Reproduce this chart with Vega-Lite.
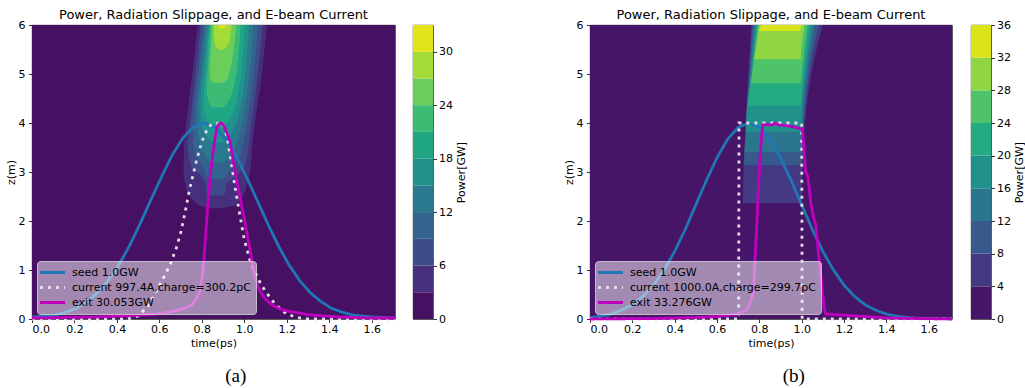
{
  "$schema": "https://vega.github.io/schema/vega-lite/v6.json",
  "padding": {"left": 4, "top": 8, "right": 0, "bottom": 0},
  "config": {
    "font": "DejaVu Sans",
    "view": {"stroke": "#000", "strokeWidth": 0.8},
    "axis": {"labelFontSize": 11, "titleFontSize": 11, "titleFontWeight": "normal", "labelColor": "#000", "titleColor": "#000", "tickColor": "#000", "tickSize": 3.5, "tickWidth": 0.8, "domain": false, "grid": false, "labelPadding": 3.5, "titlePadding": 2},
    "axisX": {"labelPadding": 1, "titlePadding": 3},
    "title": {"fontSize": 13, "fontWeight": "normal", "color": "#000", "offset": -2.5},
    "legend": {"orient": "bottom-left", "offset": 5, "fillColor": "rgba(255,255,255,0.5)", "strokeColor": "rgba(215,215,215,0.8)", "cornerRadius": 3, "padding": 5, "labelFontSize": 11, "labelColor": "#000", "labelLimit": 400, "symbolType": "M-2.5,0L2.5,0", "symbolSize": 100, "symbolStrokeWidth": 3, "symbolOffset": 4, "labelOffset": 13, "rowPadding": 2, "symbolFillColor": "transparent"}
  },
  "datasets": {
    "contourA": [
      {"level": 0, "z": 0, "t0": 0, "t1": 1.71}, {"level": 0, "z": 6, "t0": 0, "t1": 1.71},
      {"level": 3, "z": 2.26, "t0": 0.85, "t1": 0.89}, {"level": 3, "z": 2.3, "t0": 0.8, "t1": 0.94}, {"level": 3, "z": 2.4, "t0": 0.765, "t1": 0.975}, {"level": 3, "z": 2.55, "t0": 0.738, "t1": 0.998}, {"level": 3, "z": 2.75, "t0": 0.722, "t1": 1.013}, {"level": 3, "z": 3.0, "t0": 0.714, "t1": 1.027}, {"level": 3, "z": 3.5, "t0": 0.716, "t1": 1.037}, {"level": 3, "z": 4.0, "t0": 0.727, "t1": 1.05}, {"level": 3, "z": 4.5, "t0": 0.74, "t1": 1.067}, {"level": 3, "z": 5.0, "t0": 0.755, "t1": 1.083}, {"level": 3, "z": 5.5, "t0": 0.768, "t1": 1.095}, {"level": 3, "z": 6.0, "t0": 0.78, "t1": 1.106},
      {"level": 6, "z": 2.52, "t0": 0.845, "t1": 0.89}, {"level": 6, "z": 2.56, "t0": 0.82, "t1": 0.91}, {"level": 6, "z": 2.75, "t0": 0.818, "t1": 0.915}, {"level": 6, "z": 2.95, "t0": 0.79, "t1": 0.97}, {"level": 6, "z": 3.1, "t0": 0.75, "t1": 1.0}, {"level": 6, "z": 3.5, "t0": 0.735, "t1": 1.02}, {"level": 6, "z": 4.0, "t0": 0.745, "t1": 1.033}, {"level": 6, "z": 4.5, "t0": 0.757, "t1": 1.05}, {"level": 6, "z": 5.0, "t0": 0.77, "t1": 1.063}, {"level": 6, "z": 5.5, "t0": 0.783, "t1": 1.075}, {"level": 6, "z": 6.0, "t0": 0.795, "t1": 1.085},
      {"level": 9, "z": 2.85, "t0": 0.84, "t1": 0.895}, {"level": 9, "z": 2.9, "t0": 0.825, "t1": 0.91}, {"level": 9, "z": 3.1, "t0": 0.805, "t1": 0.94}, {"level": 9, "z": 3.3, "t0": 0.775, "t1": 0.975}, {"level": 9, "z": 3.6, "t0": 0.76, "t1": 0.995}, {"level": 9, "z": 4.0, "t0": 0.76, "t1": 1.013}, {"level": 9, "z": 4.5, "t0": 0.77, "t1": 1.03}, {"level": 9, "z": 5.0, "t0": 0.783, "t1": 1.045}, {"level": 9, "z": 5.5, "t0": 0.796, "t1": 1.055}, {"level": 9, "z": 6.0, "t0": 0.808, "t1": 1.063},
      {"level": 12, "z": 3.2, "t0": 0.84, "t1": 0.9}, {"level": 12, "z": 3.3, "t0": 0.82, "t1": 0.93}, {"level": 12, "z": 3.6, "t0": 0.79, "t1": 0.965}, {"level": 12, "z": 4.0, "t0": 0.777, "t1": 0.99}, {"level": 12, "z": 4.5, "t0": 0.782, "t1": 1.01}, {"level": 12, "z": 5.0, "t0": 0.795, "t1": 1.025}, {"level": 12, "z": 5.5, "t0": 0.807, "t1": 1.035}, {"level": 12, "z": 6.0, "t0": 0.818, "t1": 1.042},
      {"level": 15, "z": 3.6, "t0": 0.845, "t1": 0.905}, {"level": 15, "z": 3.75, "t0": 0.82, "t1": 0.935}, {"level": 15, "z": 4.0, "t0": 0.795, "t1": 0.963}, {"level": 15, "z": 4.5, "t0": 0.795, "t1": 0.99}, {"level": 15, "z": 5.0, "t0": 0.806, "t1": 1.005}, {"level": 15, "z": 5.5, "t0": 0.817, "t1": 1.015}, {"level": 15, "z": 6.0, "t0": 0.827, "t1": 1.022},
      {"level": 18, "z": 3.92, "t0": 0.85, "t1": 0.9}, {"level": 18, "z": 4.05, "t0": 0.825, "t1": 0.925}, {"level": 18, "z": 4.3, "t0": 0.81, "t1": 0.955}, {"level": 18, "z": 4.7, "t0": 0.81, "t1": 0.975}, {"level": 18, "z": 5.0, "t0": 0.816, "t1": 0.985}, {"level": 18, "z": 5.5, "t0": 0.826, "t1": 0.995}, {"level": 18, "z": 6.0, "t0": 0.835, "t1": 1.002},
      {"level": 21, "z": 4.32, "t0": 0.85, "t1": 0.9}, {"level": 21, "z": 4.45, "t0": 0.83, "t1": 0.925}, {"level": 21, "z": 4.7, "t0": 0.823, "t1": 0.948}, {"level": 21, "z": 5.0, "t0": 0.826, "t1": 0.962}, {"level": 21, "z": 5.5, "t0": 0.834, "t1": 0.975}, {"level": 21, "z": 6.0, "t0": 0.841, "t1": 0.983},
      {"level": 24, "z": 4.82, "t0": 0.855, "t1": 0.9}, {"level": 24, "z": 4.9, "t0": 0.84, "t1": 0.92}, {"level": 24, "z": 5.1, "t0": 0.838, "t1": 0.935}, {"level": 24, "z": 5.5, "t0": 0.843, "t1": 0.95}, {"level": 24, "z": 6.0, "t0": 0.848, "t1": 0.962},
      {"level": 27, "z": 5.5, "t0": 0.88, "t1": 0.905}, {"level": 27, "z": 5.6, "t0": 0.862, "t1": 0.925}, {"level": 27, "z": 5.8, "t0": 0.857, "t1": 0.935}, {"level": 27, "z": 6.0, "t0": 0.857, "t1": 0.94},
      {"level": 30, "z": 5.93, "t0": 0.885, "t1": 0.905}, {"level": 30, "z": 6.0, "t0": 0.878, "t1": 0.915}
    ],
    "contourB": [
      {"level": 0, "z": 0, "t0": 0, "t1": 1.71}, {"level": 0, "z": 6, "t0": 0, "t1": 1.71},
      {"level": 4, "z": 2.36, "t0": 0.722, "t1": 1.0}, {"level": 4, "z": 3.0, "t0": 0.725, "t1": 1.003}, {"level": 4, "z": 4.0, "t0": 0.735, "t1": 1.015}, {"level": 4, "z": 5.0, "t0": 0.748, "t1": 1.045}, {"level": 4, "z": 5.5, "t0": 0.755, "t1": 1.07}, {"level": 4, "z": 6.0, "t0": 0.762, "t1": 1.1},
      {"level": 8, "z": 3.14, "t0": 0.726, "t1": 1.0}, {"level": 8, "z": 4.0, "t0": 0.738, "t1": 1.01}, {"level": 8, "z": 5.0, "t0": 0.752, "t1": 1.035}, {"level": 8, "z": 5.5, "t0": 0.76, "t1": 1.055}, {"level": 8, "z": 6.0, "t0": 0.768, "t1": 1.08},
      {"level": 12, "z": 3.41, "t0": 0.73, "t1": 1.0}, {"level": 12, "z": 4.0, "t0": 0.74, "t1": 1.006}, {"level": 12, "z": 5.0, "t0": 0.756, "t1": 1.025}, {"level": 12, "z": 5.5, "t0": 0.765, "t1": 1.042}, {"level": 12, "z": 6.0, "t0": 0.775, "t1": 1.063},
      {"level": 16, "z": 3.82, "t0": 0.735, "t1": 0.998}, {"level": 16, "z": 4.5, "t0": 0.745, "t1": 1.005}, {"level": 16, "z": 5.0, "t0": 0.76, "t1": 1.018}, {"level": 16, "z": 5.5, "t0": 0.77, "t1": 1.032}, {"level": 16, "z": 6.0, "t0": 0.782, "t1": 1.05},
      {"level": 20, "z": 4.35, "t0": 0.745, "t1": 0.996}, {"level": 20, "z": 5.0, "t0": 0.765, "t1": 1.01}, {"level": 20, "z": 5.5, "t0": 0.775, "t1": 1.022}, {"level": 20, "z": 6.0, "t0": 0.788, "t1": 1.038},
      {"level": 24, "z": 4.81, "t0": 0.76, "t1": 0.995}, {"level": 24, "z": 5.5, "t0": 0.78, "t1": 1.012}, {"level": 24, "z": 6.0, "t0": 0.794, "t1": 1.027},
      {"level": 28, "z": 5.3, "t0": 0.775, "t1": 0.995}, {"level": 28, "z": 5.6, "t0": 0.787, "t1": 1.0}, {"level": 28, "z": 6.0, "t0": 0.8, "t1": 1.013},
      {"level": 32, "z": 5.88, "t0": 0.795, "t1": 0.99}, {"level": 32, "z": 6.0, "t0": 0.81, "t1": 0.998}
    ],
    "linesA": [
      {"series": "seed 1.0GW", "t": 0.0, "z": 0.04}, {"series": "seed 1.0GW", "t": 0.06, "z": 0.06}, {"series": "seed 1.0GW", "t": 0.11, "z": 0.08}, {"series": "seed 1.0GW", "t": 0.16, "z": 0.14}, {"series": "seed 1.0GW", "t": 0.21, "z": 0.22}, {"series": "seed 1.0GW", "t": 0.26, "z": 0.36}, {"series": "seed 1.0GW", "t": 0.31, "z": 0.54}, {"series": "seed 1.0GW", "t": 0.36, "z": 0.79}, {"series": "seed 1.0GW", "t": 0.41, "z": 1.11}, {"series": "seed 1.0GW", "t": 0.46, "z": 1.5}, {"series": "seed 1.0GW", "t": 0.51, "z": 1.95}, {"series": "seed 1.0GW", "t": 0.56, "z": 2.43}, {"series": "seed 1.0GW", "t": 0.61, "z": 2.9}, {"series": "seed 1.0GW", "t": 0.66, "z": 3.34}, {"series": "seed 1.0GW", "t": 0.71, "z": 3.69}, {"series": "seed 1.0GW", "t": 0.76, "z": 3.92}, {"series": "seed 1.0GW", "t": 0.81, "z": 4.0}, {"series": "seed 1.0GW", "t": 0.86, "z": 3.92}, {"series": "seed 1.0GW", "t": 0.91, "z": 3.69}, {"series": "seed 1.0GW", "t": 0.96, "z": 3.34}, {"series": "seed 1.0GW", "t": 1.01, "z": 2.9}, {"series": "seed 1.0GW", "t": 1.06, "z": 2.43}, {"series": "seed 1.0GW", "t": 1.11, "z": 1.95}, {"series": "seed 1.0GW", "t": 1.16, "z": 1.5}, {"series": "seed 1.0GW", "t": 1.21, "z": 1.11}, {"series": "seed 1.0GW", "t": 1.26, "z": 0.79}, {"series": "seed 1.0GW", "t": 1.31, "z": 0.54}, {"series": "seed 1.0GW", "t": 1.36, "z": 0.36}, {"series": "seed 1.0GW", "t": 1.41, "z": 0.22}, {"series": "seed 1.0GW", "t": 1.46, "z": 0.14}, {"series": "seed 1.0GW", "t": 1.51, "z": 0.08}, {"series": "seed 1.0GW", "t": 1.56, "z": 0.06}, {"series": "seed 1.0GW", "t": 1.61, "z": 0.04}, {"series": "seed 1.0GW", "t": 1.71, "z": 0.02},
      {"series": "current 997.4A,charge=300.2pC", "t": 0.0, "z": 0}, {"series": "current 997.4A,charge=300.2pC", "t": 0.45, "z": 0}, {"series": "current 997.4A,charge=300.2pC", "t": 0.5, "z": 0.06}, {"series": "current 997.4A,charge=300.2pC", "t": 0.55, "z": 0.28}, {"series": "current 997.4A,charge=300.2pC", "t": 0.6, "z": 0.68}, {"series": "current 997.4A,charge=300.2pC", "t": 0.65, "z": 1.1}, {"series": "current 997.4A,charge=300.2pC", "t": 0.68, "z": 1.45}, {"series": "current 997.4A,charge=300.2pC", "t": 0.7, "z": 1.75}, {"series": "current 997.4A,charge=300.2pC", "t": 0.72, "z": 2.15}, {"series": "current 997.4A,charge=300.2pC", "t": 0.74, "z": 2.6}, {"series": "current 997.4A,charge=300.2pC", "t": 0.77, "z": 3.15}, {"series": "current 997.4A,charge=300.2pC", "t": 0.8, "z": 3.62}, {"series": "current 997.4A,charge=300.2pC", "t": 0.83, "z": 3.92}, {"series": "current 997.4A,charge=300.2pC", "t": 0.86, "z": 4.0}, {"series": "current 997.4A,charge=300.2pC", "t": 0.9, "z": 3.98}, {"series": "current 997.4A,charge=300.2pC", "t": 0.92, "z": 3.7}, {"series": "current 997.4A,charge=300.2pC", "t": 0.94, "z": 3.15}, {"series": "current 997.4A,charge=300.2pC", "t": 0.96, "z": 2.6}, {"series": "current 997.4A,charge=300.2pC", "t": 0.98, "z": 2.1}, {"series": "current 997.4A,charge=300.2pC", "t": 1.0, "z": 1.62}, {"series": "current 997.4A,charge=300.2pC", "t": 1.03, "z": 1.15}, {"series": "current 997.4A,charge=300.2pC", "t": 1.07, "z": 0.78}, {"series": "current 997.4A,charge=300.2pC", "t": 1.1, "z": 0.56}, {"series": "current 997.4A,charge=300.2pC", "t": 1.15, "z": 0.28}, {"series": "current 997.4A,charge=300.2pC", "t": 1.2, "z": 0.1}, {"series": "current 997.4A,charge=300.2pC", "t": 1.25, "z": 0.03}, {"series": "current 997.4A,charge=300.2pC", "t": 1.3, "z": 0}, {"series": "current 997.4A,charge=300.2pC", "t": 1.71, "z": 0},
      {"series": "exit 30.053GW", "t": 0.0, "z": 0.02}, {"series": "exit 30.053GW", "t": 0.3, "z": 0.04}, {"series": "exit 30.053GW", "t": 0.47, "z": 0.07}, {"series": "exit 30.053GW", "t": 0.58, "z": 0.1}, {"series": "exit 30.053GW", "t": 0.66, "z": 0.15}, {"series": "exit 30.053GW", "t": 0.72, "z": 0.22}, {"series": "exit 30.053GW", "t": 0.753, "z": 0.29}, {"series": "exit 30.053GW", "t": 0.775, "z": 0.42}, {"series": "exit 30.053GW", "t": 0.79, "z": 0.56}, {"series": "exit 30.053GW", "t": 0.803, "z": 0.88}, {"series": "exit 30.053GW", "t": 0.81, "z": 1.2}, {"series": "exit 30.053GW", "t": 0.816, "z": 1.58}, {"series": "exit 30.053GW", "t": 0.822, "z": 1.95}, {"series": "exit 30.053GW", "t": 0.827, "z": 2.26}, {"series": "exit 30.053GW", "t": 0.834, "z": 2.6}, {"series": "exit 30.053GW", "t": 0.84, "z": 2.94}, {"series": "exit 30.053GW", "t": 0.85, "z": 3.3}, {"series": "exit 30.053GW", "t": 0.86, "z": 3.62}, {"series": "exit 30.053GW", "t": 0.87, "z": 3.88}, {"series": "exit 30.053GW", "t": 0.88, "z": 3.98}, {"series": "exit 30.053GW", "t": 0.89, "z": 4.0}, {"series": "exit 30.053GW", "t": 0.9, "z": 3.97}, {"series": "exit 30.053GW", "t": 0.91, "z": 3.88}, {"series": "exit 30.053GW", "t": 0.92, "z": 3.78}, {"series": "exit 30.053GW", "t": 0.933, "z": 3.62}, {"series": "exit 30.053GW", "t": 0.945, "z": 3.3}, {"series": "exit 30.053GW", "t": 0.96, "z": 2.94}, {"series": "exit 30.053GW", "t": 0.975, "z": 2.6}, {"series": "exit 30.053GW", "t": 0.99, "z": 2.26}, {"series": "exit 30.053GW", "t": 1.005, "z": 1.92}, {"series": "exit 30.053GW", "t": 1.02, "z": 1.58}, {"series": "exit 30.053GW", "t": 1.035, "z": 1.22}, {"series": "exit 30.053GW", "t": 1.05, "z": 0.88}, {"series": "exit 30.053GW", "t": 1.062, "z": 0.7}, {"series": "exit 30.053GW", "t": 1.075, "z": 0.56}, {"series": "exit 30.053GW", "t": 1.1, "z": 0.4}, {"series": "exit 30.053GW", "t": 1.13, "z": 0.29}, {"series": "exit 30.053GW", "t": 1.17, "z": 0.2}, {"series": "exit 30.053GW", "t": 1.22, "z": 0.15}, {"series": "exit 30.053GW", "t": 1.3, "z": 0.09}, {"series": "exit 30.053GW", "t": 1.35, "z": 0.07}, {"series": "exit 30.053GW", "t": 1.45, "z": 0.04}, {"series": "exit 30.053GW", "t": 1.6, "z": 0.02}, {"series": "exit 30.053GW", "t": 1.71, "z": 0.02}
    ],
    "linesB": [
      {"series": "seed 1.0GW", "t": 0.0, "z": 0.03}, {"series": "seed 1.0GW", "t": 0.05, "z": 0.057}, {"series": "seed 1.0GW", "t": 0.1, "z": 0.1}, {"series": "seed 1.0GW", "t": 0.15, "z": 0.18}, {"series": "seed 1.0GW", "t": 0.2, "z": 0.29}, {"series": "seed 1.0GW", "t": 0.25, "z": 0.46}, {"series": "seed 1.0GW", "t": 0.3, "z": 0.69}, {"series": "seed 1.0GW", "t": 0.35, "z": 1.0}, {"series": "seed 1.0GW", "t": 0.4, "z": 1.38}, {"series": "seed 1.0GW", "t": 0.45, "z": 1.83}, {"series": "seed 1.0GW", "t": 0.5, "z": 2.33}, {"series": "seed 1.0GW", "t": 0.55, "z": 2.83}, {"series": "seed 1.0GW", "t": 0.6, "z": 3.29}, {"series": "seed 1.0GW", "t": 0.65, "z": 3.67}, {"series": "seed 1.0GW", "t": 0.7, "z": 3.91}, {"series": "seed 1.0GW", "t": 0.75, "z": 4.0}, {"series": "seed 1.0GW", "t": 0.8, "z": 3.91}, {"series": "seed 1.0GW", "t": 0.85, "z": 3.67}, {"series": "seed 1.0GW", "t": 0.9, "z": 3.29}, {"series": "seed 1.0GW", "t": 0.95, "z": 2.83}, {"series": "seed 1.0GW", "t": 1.0, "z": 2.33}, {"series": "seed 1.0GW", "t": 1.05, "z": 1.83}, {"series": "seed 1.0GW", "t": 1.1, "z": 1.38}, {"series": "seed 1.0GW", "t": 1.15, "z": 1.0}, {"series": "seed 1.0GW", "t": 1.2, "z": 0.69}, {"series": "seed 1.0GW", "t": 1.25, "z": 0.46}, {"series": "seed 1.0GW", "t": 1.3, "z": 0.29}, {"series": "seed 1.0GW", "t": 1.35, "z": 0.18}, {"series": "seed 1.0GW", "t": 1.4, "z": 0.1}, {"series": "seed 1.0GW", "t": 1.45, "z": 0.057}, {"series": "seed 1.0GW", "t": 1.5, "z": 0.028}, {"series": "seed 1.0GW", "t": 1.55, "z": 0.015}, {"series": "seed 1.0GW", "t": 1.71, "z": 0.004},
      {"series": "current 1000.0A,charge=299.7pC", "t": 0.0, "z": 0}, {"series": "current 1000.0A,charge=299.7pC", "t": 0.702, "z": 0}, {"series": "current 1000.0A,charge=299.7pC", "t": 0.704, "z": 4.0}, {"series": "current 1000.0A,charge=299.7pC", "t": 1.0, "z": 4.0}, {"series": "current 1000.0A,charge=299.7pC", "t": 1.002, "z": 0}, {"series": "current 1000.0A,charge=299.7pC", "t": 1.71, "z": 0},
      {"series": "exit 33.276GW", "t": 0.0, "z": 0.0}, {"series": "exit 33.276GW", "t": 0.3, "z": 0.01}, {"series": "exit 33.276GW", "t": 0.5, "z": 0.03}, {"series": "exit 33.276GW", "t": 0.6, "z": 0.05}, {"series": "exit 33.276GW", "t": 0.7, "z": 0.1}, {"series": "exit 33.276GW", "t": 0.73, "z": 0.16}, {"series": "exit 33.276GW", "t": 0.745, "z": 0.22}, {"series": "exit 33.276GW", "t": 0.76, "z": 0.38}, {"series": "exit 33.276GW", "t": 0.772, "z": 0.56}, {"series": "exit 33.276GW", "t": 0.776, "z": 0.9}, {"series": "exit 33.276GW", "t": 0.78, "z": 1.24}, {"series": "exit 33.276GW", "t": 0.784, "z": 1.6}, {"series": "exit 33.276GW", "t": 0.788, "z": 1.92}, {"series": "exit 33.276GW", "t": 0.795, "z": 2.6}, {"series": "exit 33.276GW", "t": 0.803, "z": 3.28}, {"series": "exit 33.276GW", "t": 0.81, "z": 3.7}, {"series": "exit 33.276GW", "t": 0.816, "z": 3.96}, {"series": "exit 33.276GW", "t": 0.84, "z": 3.97}, {"series": "exit 33.276GW", "t": 0.86, "z": 3.96}, {"series": "exit 33.276GW", "t": 0.875, "z": 4.0}, {"series": "exit 33.276GW", "t": 0.89, "z": 3.96}, {"series": "exit 33.276GW", "t": 0.92, "z": 3.95}, {"series": "exit 33.276GW", "t": 0.95, "z": 3.93}, {"series": "exit 33.276GW", "t": 0.98, "z": 3.9}, {"series": "exit 33.276GW", "t": 1.0, "z": 3.88}, {"series": "exit 33.276GW", "t": 1.005, "z": 3.8}, {"series": "exit 33.276GW", "t": 1.01, "z": 3.5}, {"series": "exit 33.276GW", "t": 1.018, "z": 3.0}, {"series": "exit 33.276GW", "t": 1.027, "z": 2.94}, {"series": "exit 33.276GW", "t": 1.035, "z": 2.7}, {"series": "exit 33.276GW", "t": 1.043, "z": 2.35}, {"series": "exit 33.276GW", "t": 1.06, "z": 2.0}, {"series": "exit 33.276GW", "t": 1.067, "z": 1.92}, {"series": "exit 33.276GW", "t": 1.075, "z": 1.5}, {"series": "exit 33.276GW", "t": 1.082, "z": 1.24}, {"series": "exit 33.276GW", "t": 1.09, "z": 0.9}, {"series": "exit 33.276GW", "t": 1.098, "z": 0.56}, {"series": "exit 33.276GW", "t": 1.106, "z": 0.22}, {"series": "exit 33.276GW", "t": 1.114, "z": 0.1}, {"series": "exit 33.276GW", "t": 1.2, "z": 0.08}, {"series": "exit 33.276GW", "t": 1.3, "z": 0.05}, {"series": "exit 33.276GW", "t": 1.4, "z": 0.02}, {"series": "exit 33.276GW", "t": 1.71, "z": 0.0}
    ],
    "barA": [
      {"lo": 0, "hi": 3}, {"lo": 3, "hi": 6}, {"lo": 6, "hi": 9}, {"lo": 9, "hi": 12}, {"lo": 12, "hi": 15}, {"lo": 15, "hi": 18}, {"lo": 18, "hi": 21}, {"lo": 21, "hi": 24}, {"lo": 24, "hi": 27}, {"lo": 27, "hi": 30}, {"lo": 30, "hi": 33}
    ],
    "barB": [
      {"lo": 0, "hi": 4}, {"lo": 4, "hi": 8}, {"lo": 8, "hi": 12}, {"lo": 12, "hi": 16}, {"lo": 16, "hi": 20}, {"lo": 20, "hi": 24}, {"lo": 24, "hi": 28}, {"lo": 28, "hi": 32}, {"lo": 32, "hi": 36}
    ]
  },
  "spacing": 95,
  "resolve": {"scale": {"x": "independent", "y": "independent", "fill": "independent", "stroke": "independent", "strokeDash": "independent"}},
  "hconcat": [
    {
      "spacing": 11,
      "title": {"text": "(a)", "orient": "bottom", "anchor": "middle", "font": "Liberation Serif", "fontSize": 19, "offset": 18},
      "resolve": {"scale": {"x": "independent", "y": "independent", "fill": "independent", "stroke": "independent", "strokeDash": "independent"}},
      "hconcat": [
        {
          "width": 363,
          "height": 294,
          "title": "Power, Radiation Slippage, and E-beam Current",
          "layer": [
            {
              "data": {"name": "contourA"},
              "mark": {"type": "area", "orient": "horizontal", "interpolate": "monotone", "clip": true},
              "encoding": {
                "y": {"field": "z", "type": "quantitative", "scale": {"domain": [0, 6], "nice": false, "zero": false}, "axis": {"title": "z(m)", "values": [0, 1, 2, 3, 4, 5, 6]}},
                "x": {"field": "t0", "type": "quantitative", "scale": {"domain": [0, 1.71], "nice": false, "zero": false}, "axis": {"title": "time(ps)", "values": [0, 0.2, 0.4, 0.6, 0.8, 1.0, 1.2, 1.4, 1.6], "format": ".1f"}},
                "x2": {"field": "t1"},
                "fill": {"field": "level", "type": "ordinal", "scale": {"domain": [0, 3, 6, 9, 12, 15, 18, 21, 24, 27, 30], "range": ["#471163", "#462f7d", "#3e4c89", "#33648d", "#297a8e", "#21918c", "#21a685", "#3cbb74", "#6bcd5a", "#a5db36", "#e2e319"]}, "legend": null}
              }
            },
            {
              "data": {"name": "linesA"},
              "mark": {"type": "line", "strokeWidth": 2.8, "strokeCap": "butt"},
              "encoding": {
                "x": {"field": "t", "type": "quantitative"},
                "y": {"field": "z", "type": "quantitative"},
                "stroke": {"field": "series", "type": "nominal", "scale": {"domain": ["seed 1.0GW", "current 997.4A,charge=300.2pC", "exit 30.053GW"], "range": ["#1f77b4", "#e2dbe8", "#bf00bf"]}, "legend": {"title": null}},
                "strokeDash": {"field": "series", "type": "nominal", "scale": {"domain": ["seed 1.0GW", "current 997.4A,charge=300.2pC", "exit 30.053GW"], "range": [[1, 0], [3, 5], [1, 0]]}, "legend": {"title": null}}
              }
            }
          ]
        },
        {
          "width": 20,
          "height": 294,
          "title": "\u00a0",
          "data": {"name": "barA"},
          "mark": {"type": "rect"},
          "encoding": {
            "y": {"field": "lo", "type": "quantitative", "scale": {"domain": [0, 33], "nice": false, "zero": false}, "axis": {"orient": "right", "title": "Power[GW]", "titleAngle": -90, "titleBaseline": "top", "values": [0, 6, 12, 18, 24, 30], "labelPadding": 2, "titlePadding": 3}},
            "y2": {"field": "hi"},
            "fill": {"field": "lo", "type": "ordinal", "scale": {"domain": [0, 3, 6, 9, 12, 15, 18, 21, 24, 27, 30], "range": ["#471163", "#462f7d", "#3e4c89", "#33648d", "#297a8e", "#21918c", "#21a685", "#3cbb74", "#6bcd5a", "#a5db36", "#e2e319"]}, "legend": null}
          }
        }
      ]
    },
    {
      "spacing": 12,
      "title": {"text": "(b)", "orient": "bottom", "anchor": "middle", "font": "Liberation Serif", "fontSize": 19, "offset": 18},
      "resolve": {"scale": {"x": "independent", "y": "independent", "fill": "independent", "stroke": "independent", "strokeDash": "independent"}},
      "hconcat": [
        {
          "width": 362,
          "height": 294,
          "title": "Power, Radiation Slippage, and E-beam Current",
          "layer": [
            {
              "data": {"name": "contourB"},
              "mark": {"type": "area", "orient": "horizontal", "interpolate": "monotone", "clip": true},
              "encoding": {
                "y": {"field": "z", "type": "quantitative", "scale": {"domain": [0, 6], "nice": false, "zero": false}, "axis": {"title": "z(m)", "values": [0, 1, 2, 3, 4, 5, 6]}},
                "x": {"field": "t0", "type": "quantitative", "scale": {"domain": [0, 1.71], "nice": false, "zero": false}, "axis": {"title": "time(ps)", "values": [0, 0.2, 0.4, 0.6, 0.8, 1.0, 1.2, 1.4, 1.6], "format": ".1f"}},
                "x2": {"field": "t1"},
                "fill": {"field": "level", "type": "ordinal", "scale": {"domain": [0, 4, 8, 12, 16, 20, 24, 28, 32], "range": ["#471567", "#443982", "#38598c", "#2b758e", "#21918c", "#25ab82", "#4fc36a", "#90d643", "#dbe31a"]}, "legend": null}
              }
            },
            {
              "data": {"name": "linesB"},
              "mark": {"type": "line", "strokeWidth": 2.8, "strokeCap": "butt"},
              "encoding": {
                "x": {"field": "t", "type": "quantitative"},
                "y": {"field": "z", "type": "quantitative"},
                "stroke": {"field": "series", "type": "nominal", "scale": {"domain": ["seed 1.0GW", "current 1000.0A,charge=299.7pC", "exit 33.276GW"], "range": ["#1f77b4", "#e2dbe8", "#bf00bf"]}, "legend": {"title": null}},
                "strokeDash": {"field": "series", "type": "nominal", "scale": {"domain": ["seed 1.0GW", "current 1000.0A,charge=299.7pC", "exit 33.276GW"], "range": [[1, 0], [3, 5], [1, 0]]}, "legend": {"title": null}}
              }
            }
          ]
        },
        {
          "width": 20,
          "height": 294,
          "title": "\u00a0",
          "data": {"name": "barB"},
          "mark": {"type": "rect"},
          "encoding": {
            "y": {"field": "lo", "type": "quantitative", "scale": {"domain": [0, 36], "nice": false, "zero": false}, "axis": {"orient": "right", "title": "Power[GW]", "titleAngle": -90, "titleBaseline": "top", "values": [0, 4, 8, 12, 16, 20, 24, 28, 32, 36], "labelPadding": 2, "titlePadding": 3}},
            "y2": {"field": "hi"},
            "fill": {"field": "lo", "type": "ordinal", "scale": {"domain": [0, 4, 8, 12, 16, 20, 24, 28, 32], "range": ["#471567", "#443982", "#38598c", "#2b758e", "#21918c", "#25ab82", "#4fc36a", "#90d643", "#dbe31a"]}, "legend": null}
          }
        }
      ]
    }
  ]
}
